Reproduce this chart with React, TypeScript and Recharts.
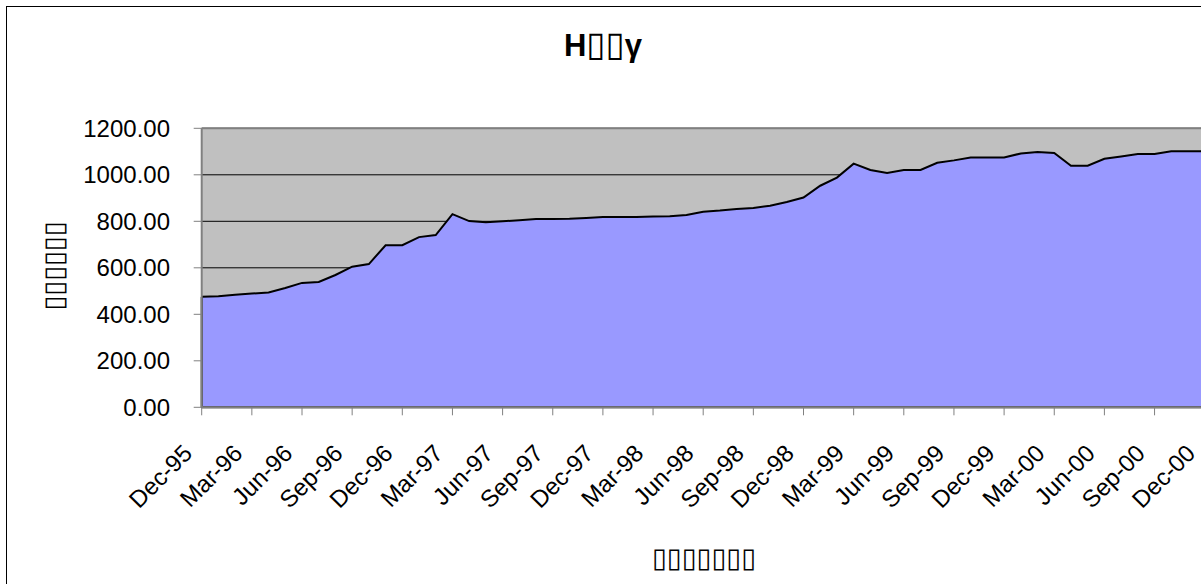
import React from "react";
import { AreaChart, Area, XAxis, YAxis, CartesianGrid, ReferenceLine } from "recharts";

const MONTHS = [
  "Dec-95",
  "Jan-96", "Feb-96", "Mar-96", "Apr-96", "May-96", "Jun-96", "Jul-96", "Aug-96", "Sep-96", "Oct-96", "Nov-96", "Dec-96",
  "Jan-97", "Feb-97", "Mar-97", "Apr-97", "May-97", "Jun-97", "Jul-97", "Aug-97", "Sep-97", "Oct-97", "Nov-97", "Dec-97",
  "Jan-98", "Feb-98", "Mar-98", "Apr-98", "May-98", "Jun-98", "Jul-98", "Aug-98", "Sep-98", "Oct-98", "Nov-98", "Dec-98",
  "Jan-99", "Feb-99", "Mar-99", "Apr-99", "May-99", "Jun-99", "Jul-99", "Aug-99", "Sep-99", "Oct-99", "Nov-99", "Dec-99",
  "Jan-00", "Feb-00", "Mar-00", "Apr-00", "May-00", "Jun-00", "Jul-00", "Aug-00", "Sep-00", "Oct-00", "Nov-00", "Dec-00",
];

const VALUES = [
  475,
  478, 484, 489, 494, 513, 535, 539, 569, 605, 616, 697, 697,
  732, 741, 831, 801, 796, 800, 805, 810, 810, 811, 814, 818,
  818, 818, 821, 822, 827, 841, 846, 853, 857, 867, 883, 902,
  953, 988, 1048, 1021, 1008, 1021, 1021, 1052, 1062, 1074, 1074, 1074,
  1092, 1098, 1094, 1039, 1039, 1069, 1079, 1089, 1089, 1101, 1101, 1101,
];

const Y_TICKS = [0, 200, 400, 600, 800, 1000, 1200];

// title pieces: the middle two glyphs show as empty boxes in the source
const TITLE_START = "H";
const TITLE_BOXES = "▯▯";
const TITLE_END = "γ";
const Y_TITLE = "▯▯▯▯▯▯";
const X_TITLE = "▯▯▯▯▯▯▯";

const FONT = "'Liberation Sans', Arial, sans-serif";
const BOX_FONT = "'DejaVu Sans', sans-serif";

const data = MONTHS.map((m, i) => ({ month: m, value: VALUES[i] }));

function MonthTick({ x, y, payload }: any) {
  const bx = x - 8;
  const by = y + 37.5;
  return (
    <text
      x={bx}
      y={by}
      transform={`rotate(-45 ${bx} ${by})`}
      textAnchor="end"
      fontSize={24}
      fontFamily={FONT}
      fill="#000"
    >
      {payload.value}
    </text>
  );
}

export default function App() {
  return (
    <div
      style={{
        position: "fixed",
        left: 0,
        top: 0,
        width: 1201,
        height: 584,
        overflow: "hidden",
        background: "#fff",
      }}
    >
      <div
        style={{
          position: "absolute",
          left: 6,
          top: 6,
          width: 1300,
          height: 700,
          border: "1px solid #000",
        }}
      />
      <div
        style={{
          position: "absolute",
          left: 603,
          top: 26,
          transform: "translateX(-50%)",
          fontFamily: FONT,
          fontWeight: "bold",
          fontSize: 31,
          whiteSpace: "nowrap",
          lineHeight: "36px",
        }}
      >
        {TITLE_START}
        <span style={{ fontFamily: BOX_FONT, fontWeight: "normal", fontSize: 35 }}>{TITLE_BOXES}</span>
        {TITLE_END}
      </div>
      <div
        style={{
          position: "absolute",
          left: 53,
          top: 266,
          transform: "translate(-50%, -50%) rotate(-90deg)",
          fontFamily: BOX_FONT,
          fontSize: 27,
          whiteSpace: "nowrap",
          lineHeight: "27px",
        }}
      >
        {Y_TITLE}
      </div>
      <div
        style={{
          position: "absolute",
          left: 704,
          top: 557,
          transform: "translate(-50%, -50%)",
          fontFamily: BOX_FONT,
          fontSize: 27,
          whiteSpace: "nowrap",
          lineHeight: "27px",
        }}
      >
        {X_TITLE}
      </div>
      <div style={{ position: "absolute", left: 0, top: 0 }}>
        <AreaChart
          width={1240}
          height={620}
          data={data}
          margin={{ top: 128.3, right: 35.3, left: 101.7, bottom: 0 }}
        >
          <CartesianGrid vertical={false} stroke="#000" fill="#C0C0C0" fillOpacity={1} />
          <XAxis
            dataKey="month"
            interval={2}
            height={212.7}
            tickSize={8}
            tickMargin={2}
            tick={<MonthTick />}
            axisLine={{ stroke: "#808080", strokeWidth: 2 }}
            tickLine={{ stroke: "#808080" }}
          />
          <YAxis
            width={100}
            domain={[0, 1200]}
            ticks={Y_TICKS}
            tickSize={8}
            tickMargin={23.7}
            tickFormatter={(v: number) => v.toFixed(2)}
            tick={{ fontSize: 24, fontFamily: FONT, fill: "#000" }}
            axisLine={{ stroke: "#808080", strokeWidth: 2 }}
            tickLine={{ stroke: "#808080" }}
          />
          <ReferenceLine y={1200} stroke="#808080" strokeWidth={2} />
          <Area
            type="linear"
            dataKey="value"
            stroke="#000"
            strokeWidth={2}
            fill="#9999FF"
            fillOpacity={1}
            dot={false}
            activeDot={false}
            isAnimationActive={false}
          />
          <ReferenceLine y={0} stroke="#000" strokeWidth={2} />
          <ReferenceLine
            segment={[
              { x: MONTHS[0], y: 0 },
              { x: MONTHS[0], y: VALUES[0] },
            ]}
            stroke="#000"
            strokeWidth={2}
          />
        </AreaChart>
      </div>
    </div>
  );
}
